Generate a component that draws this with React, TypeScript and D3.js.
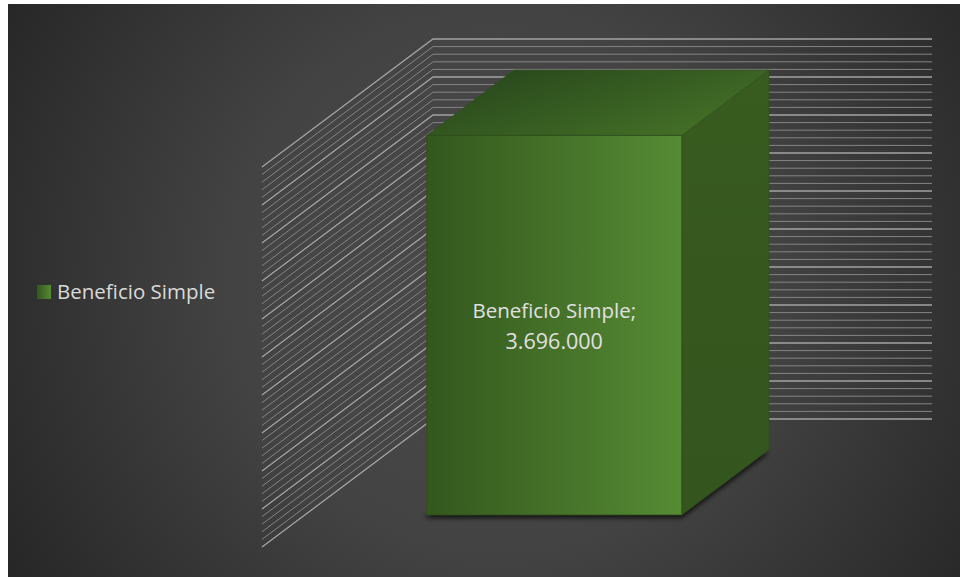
import React from "react";
import * as d3 from "d3";

const categories: string[] = ["Beneficio Simple"];
const seriesName = "Beneficio Simple";
const values: number[] = [3696000];
const axisMax = 3700000;
const minorCount = 50;
const majorEvery = 5;
const labelTexts: string[] = ["Beneficio Simple;", "3.696.000"];

const W = 960;
const H = 577;

// 3D oblique projection parameters
const FRONT_X0 = 262;
const FRONT_X1 = 761;
const FLOOR_Y = 547;
const WALL_TOP = 167;
const DEPTH_DX = 171;
const DEPTH_DY = -128;
const BAR_Z0 = 0.25;
const BAR_Z1 = 0.76;

const project = (x: number, y: number, z: number): [number, number] => [
  x + z * DEPTH_DX,
  y + z * DEPTH_DY,
];

const poly = (pts: [number, number][]) =>
  pts.map((p) => `${p[0].toFixed(2)},${p[1].toFixed(2)}`).join(" ");

export default function App() {
  const xScale = d3
    .scaleBand<string>()
    .domain(categories)
    .range([FRONT_X0, FRONT_X1])
    .paddingInner(0)
    .paddingOuter(0.478);
  const yScale = d3.scaleLinear().domain([0, axisMax]).range([FLOOR_Y, WALL_TOP]);
  const ticks = d3.range(0, minorCount + 1).map((i) => (axisMax * i) / minorCount);

  return (
    <svg
      width={W}
      height={H}
      style={{ position: "absolute", left: 0, top: 0, display: "block" }}
    >
      <defs>
        <radialGradient id="bg" gradientUnits="userSpaceOnUse" cx={500} cy={280} r={600}>
          <stop offset="0" stopColor="#4b4b4b" />
          <stop offset="0.45" stopColor="#434343" />
          <stop offset="1" stopColor="#242424" />
        </radialGradient>
        <linearGradient id="front" x1="0" y1="0" x2="1" y2="0">
          <stop offset="0" stopColor="#33571d" />
          <stop offset="1" stopColor="#568b34" />
        </linearGradient>
        <linearGradient id="top" x1="0" y1="0" x2="1" y2="0.6">
          <stop offset="0" stopColor="#25421a" />
          <stop offset="1" stopColor="#436f27" />
        </linearGradient>
        <linearGradient id="side" x1="0" y1="0" x2="0" y2="1">
          <stop offset="0" stopColor="#385b20" />
          <stop offset="1" stopColor="#34551e" />
        </linearGradient>
        <linearGradient id="legendSq" x1="0" y1="0" x2="1" y2="0">
          <stop offset="0" stopColor="#33571d" />
          <stop offset="1" stopColor="#568b34" />
        </linearGradient>
        <filter id="blur" x="-20%" y="-20%" width="140%" height="140%">
          <feGaussianBlur stdDeviation="2.5" />
        </filter>
      </defs>
      <rect x={0} y={0} width={W} height={H} fill="#ffffff" />
      <rect x={8} y={4} width={W - 8} height={H - 4} fill="url(#bg)" />

      {/* gridlines on left wall and back wall */}
      <g fill="none">
        {ticks.map((t, i) => {
          const y = yScale(t);
          const a = project(FRONT_X0, y, 0);
          const b = project(FRONT_X0, y, 1);
          const c = project(FRONT_X1, y, 1);
          const major = i % majorEvery === 0;
          return (
            <polyline
              key={i}
              points={poly([a, b, c])}
              stroke={major ? "#a3a3a3" : "#858585"}
              strokeWidth={major ? 1.3 : 1}
            />
          );
        })}
      </g>

      {/* bars */}
      {categories.map((cat, i) => {
        const x0 = xScale(cat) as number;
        const x1 = x0 + xScale.bandwidth();
        const yT = yScale(values[i]);
        const yB = yScale(0);
        const front: [number, number][] = [
          project(x0, yT, BAR_Z0),
          project(x1, yT, BAR_Z0),
          project(x1, yB, BAR_Z0),
          project(x0, yB, BAR_Z0),
        ];
        const top: [number, number][] = [
          project(x0, yT, BAR_Z0),
          project(x1, yT, BAR_Z0),
          project(x1, yT, BAR_Z1),
          project(x0, yT, BAR_Z1),
        ];
        const side: [number, number][] = [
          project(x1, yT, BAR_Z0),
          project(x1, yT, BAR_Z1),
          project(x1, yB, BAR_Z1),
          project(x1, yB, BAR_Z0),
        ];
        const foot: [number, number][] = [
          project(x0 - 3, yB, BAR_Z0),
          project(x1, yB, BAR_Z0),
          project(x1, yB, BAR_Z1),
          project(x0, yB, BAR_Z1),
        ].map((p) => [p[0], p[1] + 3] as [number, number]);
        const cx = (front[0][0] + front[1][0]) / 2;
        return (
          <g key={cat}>
            <polygon points={poly(foot)} fill="#000" opacity={0.75} filter="url(#blur)" />
            <polygon points={poly(side)} fill="url(#side)" stroke="#2f4f1a" strokeWidth={0.6} />
            <polygon points={poly(top)} fill="url(#top)" stroke="#2f4f1a" strokeWidth={0.6} />
            <polygon points={poly(front)} fill="url(#front)" stroke="#2e4d1a" strokeWidth={0.8} />
            <text
              x={cx}
              y={318}
              textAnchor="middle"
              fontFamily="'Open Sans', sans-serif"
              fontSize={20.5}
              fill="#e0e0e0"
            >
              {labelTexts[0]}
            </text>
            <text
              x={cx}
              y={349}
              textAnchor="middle"
              fontFamily="'Open Sans', sans-serif"
              fontSize={21.5}
              fill="#e0e0e0"
            >
              {labelTexts[1]}
            </text>
          </g>
        );
      })}

      {/* legend */}
      <g>
        <rect x={37} y={285} width={14} height={14} fill="url(#legendSq)" />
        <text
          x={57}
          y={298.5}
          fontFamily="'Open Sans', sans-serif"
          fontSize={20.5}
          fill="#d9d9d9"
        >
          {seriesName}
        </text>
      </g>
    </svg>
  );
}
